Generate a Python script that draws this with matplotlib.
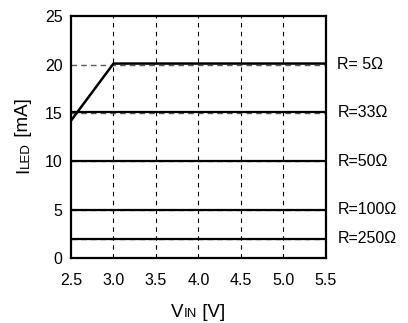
import matplotlib
matplotlib.use('Agg')
import matplotlib.pyplot as plt

plt.rcParams['font.family'] = ['Liberation Sans', 'DejaVu Sans']

# data
vin = [2.5, 3.0, 5.5]
r5 = [14.2, 20.1, 20.1]
flat_x = [2.5, 5.5]
r33 = [15.05, 15.05]
r50 = [10.05, 10.05]
r100 = [5.0, 5.0]
r250 = [2.0, 2.0]
ref_levels = [20, 15, 10, 5, 2]
labels = ['R= 5\u03a9', 'R=33\u03a9', 'R=50\u03a9', 'R=100\u03a9', 'R=250\u03a9']
label_y = [20, 15, 10, 5, 2]
xticks = [2.5, 3.0, 3.5, 4.0, 4.5, 5.0, 5.5]
yticks = [0, 5, 10, 15, 20, 25]

fig = plt.figure(figsize=(4.08, 3.23), dpi=100)
ax = fig.add_axes([0.174, 0.201, 0.625, 0.749])

# dashed grid
for x in xticks[1:-1]:
    ax.axvline(x, color='black', lw=0.8, dashes=(4, 4), zorder=1)
for y in ref_levels:
    ax.axhline(y, color='0.35', lw=1.0, dashes=(4, 3), zorder=1)

# curves
for ys in [r33, r50, r100, r250]:
    ax.plot(flat_x, ys, color='black', lw=1.6, zorder=3)
ax.plot(vin, r5, color='black', lw=1.8, zorder=3)

ax.set_xlim(2.5, 5.5)
ax.set_ylim(0, 25)
ax.set_xticks(xticks)
ax.set_xticklabels([f'{x:.1f}' for x in xticks])
ax.set_yticks(yticks)
ax.tick_params(length=0, labelsize=11.5, pad=6)
ax.tick_params(axis='x', pad=10.5)
for s in ax.spines.values():
    s.set_linewidth(1.6)

for lab, y in zip(labels, label_y):
    ax.text(1.045, y, lab, transform=ax.get_yaxis_transform(), fontsize=11.5, va='center', ha='left')

# axis labels, small-caps look
t = fig.text(0.42, 0.019, 'V', fontsize=13.5, ha='left', va='baseline')
t2 = fig.text(0, 0, 'IN', fontsize=9.5, ha='left', va='baseline')
t3 = fig.text(0, 0, ' [V]', fontsize=13.5, ha='left', va='baseline')
fig.canvas.draw()
bb = t.get_window_extent()
t2.set_position((bb.x1 / fig.bbox.width, 0.019))
fig.canvas.draw()
bb2 = t2.get_window_extent()
t3.set_position((bb2.x1 / fig.bbox.width, 0.019))

ty = fig.text(0.078, 0.464, 'I', fontsize=13.5, rotation=90, ha='right', va='bottom')
fig.canvas.draw()
bby = ty.get_window_extent()
ty2 = fig.text(0.078, bby.y1 / fig.bbox.height, 'LED', fontsize=9.5, rotation=90, ha='right', va='bottom')
fig.canvas.draw()
bby2 = ty2.get_window_extent()
fig.text(0.078, bby2.y1 / fig.bbox.height, ' [mA]', fontsize=13.5, rotation=90, ha='right', va='bottom')

plt.savefig('out.png', dpi=100)
